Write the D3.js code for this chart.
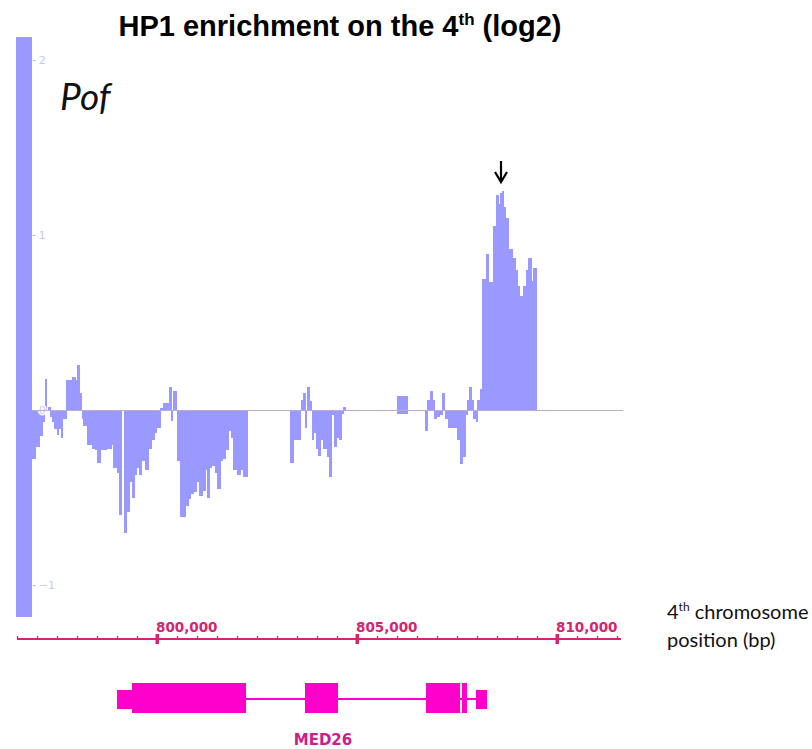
<!DOCTYPE html>
<html>
<head>
<meta charset="utf-8">
<script src="https://cdn.jsdelivr.net/npm/d3@7"></script>
<style>
  body { margin: 0; background: #fff; }
  svg { display: block; }
</style>
</head>
<body>
<script>
// Pof signal (log2) in bins: each bin runs from its start to the next start; null closes a run.
const binStart = [
  796880, 796950, 797050, 797125, 797190, 797225, 797280, 797325, 797380, 797430,
  797490, 797540, 797590, 797640, 797725, 797870, 797950, 798010, 798050, 798120,
  798160, 798240, 798370, 798450, 798510, 798590, 798740, 798870, 798910, 798990,
  799060, 799120, 799170, 799240, 799300, 799370, 799425, 799490, 799560, 799620,
  799700, 799780, 799850, 799925, 799990, 800075, 800140, 800225, 800290, 800350,
  800390, 800490, 800575, 800720, 800780, 800840, 800910, 800975, 801060, 801140,
  801200, 801240, 801310, 801370, 801450, 801510, 801575, 801640, 801700, 801780,
  801840, 801910, 801990, 802075, 802160, 802260,
  803325, 803410, 803590, 803640, 803700, 803740, 803810, 803870, 803910, 803975,
  804030, 804090, 804160, 804240, 804300, 804350, 804430, 804490, 804560, 804620,
  804650, 804700,
  806700, 806760, 806825, 806880, 806930, 806990, 807060, 807125, 807190, 807280,
  807390, 807490, 807575, 807640, 807700, 807750, 807810, 807850, 807910, 807975,
  808010, 808075, 808125, 808225, 808275, 808400, 808475, 808525, 808575, 808625,
  808650, 808700, 808775, 808875, 808950, 809000, 809050, 809150, 809225, 809275,
  809350, 809400, 809475
];
const binValue = [
  -0.28, -0.21, -0.15, -0.07, 0.18, null, 0.02, -0.04, -0.07, -0.11,
  -0.14, -0.11, -0.16, -0.05, 0.17, 0.19, 0.17, 0.26, 0.10, -0.05,
  -0.09, -0.20, -0.22, -0.23, -0.30, -0.23, -0.22, -0.20, -0.33, -0.36,
  -0.60, null, -0.70, -0.58, -0.41, -0.50, -0.37, -0.33, -0.37, -0.29,
  -0.34, -0.22, -0.17, -0.13, -0.10, 0.01, 0.04, 0.04, 0.13, -0.06,
  0.11, -0.29, -0.61, -0.55, -0.51, -0.48, -0.47, -0.41, -0.49, -0.46,
  -0.34, -0.50, -0.33, -0.32, -0.36, -0.45, -0.29, -0.28, -0.23, -0.12,
  -0.16, -0.34, -0.37, -0.34, -0.38, null,
  -0.30, -0.17, 0.06, 0.10, -0.10, 0.13, 0.05, -0.17, -0.13, -0.22,
  -0.26, -0.17, -0.22, -0.27, -0.38, -0.03, -0.21, -0.16, -0.17, -0.02,
  0.02, null,
  -0.12, 0.06, 0.11, 0.06, -0.05, -0.04, -0.03, 0.10, -0.05, -0.10,
  -0.10, -0.17, -0.31, -0.27, -0.03, 0.06, 0.13, 0.06, -0.05, -0.07,
  0.06, 0.12, 0.75, 0.89, 0.73, 1.05, 1.23, 1.18, 1.24, 1.25,
  1.16, 1.10, 0.92, 0.87, 0.80, 0.71, 0.65, 0.71, 0.80, 0.87,
  0.74, 0.81, null
];

// Wide bins drawn from a low to a high value
const spanStart = [796475, 806000];
const spanEnd   = [796880, 806275];
const spanLow   = [-1.18, -0.02];
const spanHigh  = [2.13, 0.08];

// Axes
const yTickValues = [-1, 0, 1, 2];
const xMajorTicks = [800000, 805000, 810000];
const xAxisStart = 796500, xAxisEnd = 811600, xMinorStep = 500;

// MED26 gene model
const geneName = "MED26";
const geneStart = 799000, geneEnd = 808250;
const exonStart = [799000, 799375, 803700, 806725, 807625, 807975];
const exonEnd   = [799375, 802225, 804525, 807575, 807750, 808250];
const exonCoding = [false, true, true, true, true, false];

// Summit marker
const summitPos = 808600;

const W = 812, H = 749;
const svg = d3.select("body").append("svg").attr("width", W).attr("height", H);

const x = d3.scaleLinear().domain([xAxisStart, xAxisEnd]).range([17, 621]);
const y = d3.scaleLinear().domain([-1, 2]).range([585, 60]);

const barColor = "#9999ff";
const axisColor = "#d6246f";
const geneColor = "#ff00cc";

// Title
const title = svg.append("text")
  .attr("x", 340).attr("y", 36)
  .attr("text-anchor", "middle")
  .style("font-family", "'Liberation Sans', Arial, sans-serif")
  .style("font-weight", "bold").style("font-size", "29px").attr("fill", "#000");
title.append("tspan").text("HP1 enrichment on the 4");
title.append("tspan").text("th").attr("dy", -11).style("font-size", "17px");
title.append("tspan").text(" (log2)").attr("dy", 11);

// Signal bins
const bins = [];
for (let i = 0; i < binStart.length - 1; i++) {
  if (binValue[i] !== null) bins.push({ x0: binStart[i], x1: binStart[i + 1], v: binValue[i] });
}
const spans = spanStart.map((s, i) => ({ x0: s, x1: spanEnd[i], lo: spanLow[i], hi: spanHigh[i] }));

const plot = svg.append("g").attr("shape-rendering", "crispEdges");
plot.selectAll("rect.span").data(spans).join("rect")
  .attr("class", "span")
  .attr("x", d => x(d.x0)).attr("width", d => x(d.x1) - x(d.x0))
  .attr("y", d => y(d.hi)).attr("height", d => y(d.lo) - y(d.hi))
  .attr("fill", barColor);

plot.selectAll("rect.bin").data(bins).join("rect")
  .attr("class", "bin")
  .attr("x", d => x(d.x0)).attr("width", d => x(d.x1) - x(d.x0) + 0.6)
  .attr("y", d => y(Math.max(0, d.v)))
  .attr("height", d => Math.abs(y(d.v) - y(0)))
  .attr("fill", barColor);

// Y axis ticks (light)
const yAxis = svg.append("g")
  .attr("transform", `translate(${x(796880) + 0.5},0)`)
  .call(d3.axisRight(y).tickValues(yTickValues).tickSize(3).tickPadding(3).tickFormat(d3.format("d")));
yAxis.select(".domain").remove();
yAxis.selectAll("line").attr("stroke", "#b8b8f0");
yAxis.selectAll("text")
  .attr("fill", "#c9c9f3")
  .style("font-family", "'DejaVu Sans', sans-serif").style("font-size", "11px")
  .attr("stroke", "#fff").attr("stroke-width", 3).attr("paint-order", "stroke");

// Zero baseline
svg.append("line")
  .attr("x1", x(796880)).attr("x2", 623)
  .attr("y1", y(0) + 0.5).attr("y2", y(0) + 0.5)
  .attr("stroke", "#bda8d6").attr("stroke-width", 1);

// Track label
svg.append("text").text("Pof")
  .attr("x", 60).attr("y", 110)
  .style("font-family", "Lato, 'Open Sans', sans-serif")
  .style("font-style", "italic").style("font-size", "37px").attr("fill", "#111");

// Summit arrow
const ax = x(summitPos);
svg.append("path")
  .attr("d", `M${ax},161 L${ax},181 M${ax - 6},172 L${ax},182 L${ax + 6},172`)
  .attr("fill", "none").attr("stroke", "#000").attr("stroke-width", 2.2);

// Position axis
const axisY = 639;
const xAxisG = svg.append("g").attr("transform", `translate(0,${axisY})`)
  .call(d3.axisTop(x).tickValues(d3.range(xAxisStart, xAxisEnd, xMinorStep)).tickSize(3).tickFormat(""));
xAxisG.select(".domain").remove();
xAxisG.selectAll("line").attr("stroke", axisColor).attr("stroke-width", 1.3);
svg.append("line")
  .attr("x1", x(xAxisStart)).attr("x2", x(xAxisEnd))
  .attr("y1", axisY).attr("y2", axisY)
  .attr("stroke", axisColor).attr("stroke-width", 2);
svg.selectAll("rect.major").data(xMajorTicks).join("rect")
  .attr("class", "major")
  .attr("x", d => x(d) - 1.5).attr("width", 3.5)
  .attr("y", axisY - 5).attr("height", 10)
  .attr("fill", axisColor);
svg.selectAll("text.major").data(xMajorTicks).join("text")
  .attr("class", "major")
  .attr("x", d => x(d) - 1).attr("y", 632)
  .text(d3.format(","))
  .style("font-family", "'DejaVu Sans', sans-serif").style("font-weight", "bold")
  .style("font-size", "13.5px").attr("fill", axisColor);

// Axis caption
const cap = svg.append("text")
  .attr("x", 667).attr("y", 619)
  .style("font-family", "Lato, 'Open Sans', sans-serif").style("font-size", "20px").attr("fill", "#111");
cap.append("tspan").text("4");
cap.append("tspan").text("th").attr("dy", -8).style("font-size", "12px");
cap.append("tspan").text(" chromosome").attr("dy", 8);
svg.append("text").text("position (bp)")
  .attr("x", 667).attr("y", 647)
  .style("font-family", "Lato, 'Open Sans', sans-serif").style("font-size", "20px").attr("fill", "#111");

// Gene model
const geneY = 699;
svg.append("line")
  .attr("x1", x(geneStart)).attr("x2", x(geneEnd))
  .attr("y1", geneY).attr("y2", geneY)
  .attr("stroke", geneColor).attr("stroke-width", 2);
const exons = exonStart.map((s, i) => ({ s, e: exonEnd[i], coding: exonCoding[i] }));
svg.selectAll("rect.exon").data(exons).join("rect")
  .attr("class", "exon")
  .attr("x", d => x(d.s)).attr("width", d => x(d.e) - x(d.s))
  .attr("y", d => d.coding ? geneY - 16 : geneY - 9)
  .attr("height", d => d.coding ? 30 : 19)
  .attr("fill", geneColor);
svg.append("text").text(geneName)
  .attr("x", 323).attr("y", 745).attr("text-anchor", "middle")
  .style("font-family", "'DejaVu Sans', sans-serif").style("font-weight", "bold")
  .style("font-size", "15px").attr("fill", "#c8208c");
</script>
</body>
</html>
